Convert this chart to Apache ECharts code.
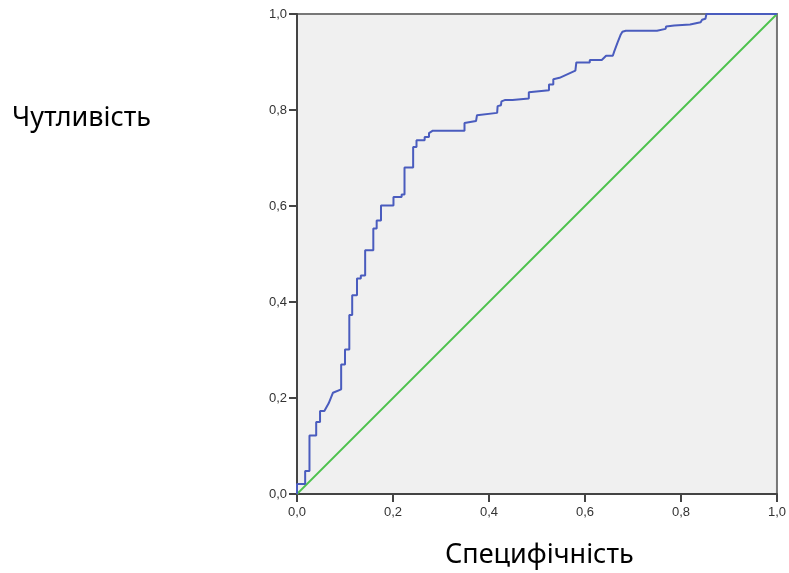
<!DOCTYPE html>
<html>
<head>
<meta charset="utf-8">
<script src="https://cdn.jsdelivr.net/npm/echarts@6/dist/echarts.min.js"></script>
<style>
    html, body {margin: 0; padding: 0; background: #fff;}
    #main {width: 789px; height: 573px;}
</style>
</head>
<body>
<div id="main"></div>
<script>
// ROC curve vertices (x = 1 - specificity, y = sensitivity)
var rocX = [0, 0, 0.017, 0.017, 0.026, 0.026, 0.040, 0.040, 0.048, 0.048, 0.057, 0.066, 0.075, 0.092, 0.092,
    0.100, 0.100, 0.109, 0.109, 0.115, 0.115, 0.125, 0.125, 0.133, 0.133, 0.142, 0.142, 0.159, 0.159, 0.166,
    0.166, 0.175, 0.175, 0.201, 0.201, 0.218, 0.218, 0.224, 0.224, 0.242, 0.242, 0.249, 0.249, 0.266, 0.266,
    0.275, 0.275, 0.283, 0.349, 0.349, 0.373, 0.375, 0.417, 0.418, 0.425, 0.426, 0.434, 0.449, 0.449, 0.483,
    0.483, 0.487, 0.525, 0.525, 0.534, 0.534, 0.547, 0.580, 0.582, 0.610, 0.610, 0.635, 0.644, 0.658, 0.661,
    0.668, 0.674, 0.678, 0.685, 0.750, 0.751, 0.768, 0.769, 0.786, 0.819, 0.823, 0.841, 0.844, 0.851, 0.853, 1.0];
var rocY = [0, 0.021, 0.021, 0.048, 0.048, 0.122, 0.122, 0.150, 0.150, 0.173, 0.173, 0.189, 0.211, 0.218, 0.270,
    0.270, 0.301, 0.301, 0.373, 0.373, 0.414, 0.414, 0.449, 0.449, 0.455, 0.455, 0.508, 0.508, 0.553, 0.553,
    0.570, 0.570, 0.601, 0.601, 0.619, 0.619, 0.624, 0.624, 0.680, 0.680, 0.723, 0.723, 0.737, 0.737, 0.744,
    0.744, 0.752, 0.757, 0.757, 0.773, 0.777, 0.789, 0.794, 0.808, 0.810, 0.818, 0.821, 0.821, 0.824, 0.824,
    0.837, 0.841, 0.841, 0.853, 0.853, 0.864, 0.867, 0.882, 0.899, 0.899, 0.904, 0.904, 0.913, 0.913, 0.922,
    0.941, 0.956, 0.963, 0.965, 0.965, 0.969, 0.969, 0.974, 0.976, 0.978, 0.982, 0.983, 0.988, 0.990, 1.0, 1.0];
// reference line
var diagX = [0, 1];
var diagY = [0, 1];

function pairs(xs, ys) {
    return xs.map(function(x, i) {
        return [x, ys[i]];
    });
}

function fmt(v) {
    return v.toFixed(1).replace('.', ',');
}

var myChart = echarts.init(document.getElementById('main'));
var axisCommon = {
    type: 'value',
    min: 0,
    max: 1,
    interval: 0.2,
    axisLine: {show: true, onZero: false, lineStyle: {color: '#444', width: 2}},
    axisTick: {show: true, inside: false, length: 8, lineStyle: {color: '#444', width: 2}},
    axisLabel: {
        color: '#333',
        fontSize: 13,
        fontFamily: 'Liberation Sans',
        formatter: function(v) {
            return fmt(v);
        }
    },
    splitLine: {show: false}
};

myChart.setOption({
    animation: false,
    grid: {
        left: 297,
        right: 9,
        top: 14,
        bottom: 79,
        show: true,
        backgroundColor: '#f0f0f0',
        borderColor: '#777',
        borderWidth: 2
    },
    xAxis: echarts.util.merge({axisLabel: {margin: 12}}, axisCommon),
    yAxis: echarts.util.merge({axisLabel: {margin: 10}}, axisCommon),
    graphic: [{
        type: 'text',
        left: 12,
        top: 105,
        style: {text: 'Чутливість', fontSize: 27, fontFamily: 'Noto Sans', fill: '#000'}
    }, {
        type: 'text',
        left: 445,
        top: 542,
        style: {text: 'Специфічність', fontSize: 27, fontFamily: 'Noto Sans', fill: '#000'}
    }],
    series: [{
        type: 'line',
        data: pairs(diagX, diagY),
        showSymbol: false,
        lineStyle: {color: '#4cc24c', width: 1.8},
        z: 2
    }, {
        type: 'line',
        data: pairs(rocX, rocY),
        showSymbol: false,
        lineStyle: {color: '#4a5cbe', width: 2},
        z: 3
    }]
});
</script>
</body>
</html>
